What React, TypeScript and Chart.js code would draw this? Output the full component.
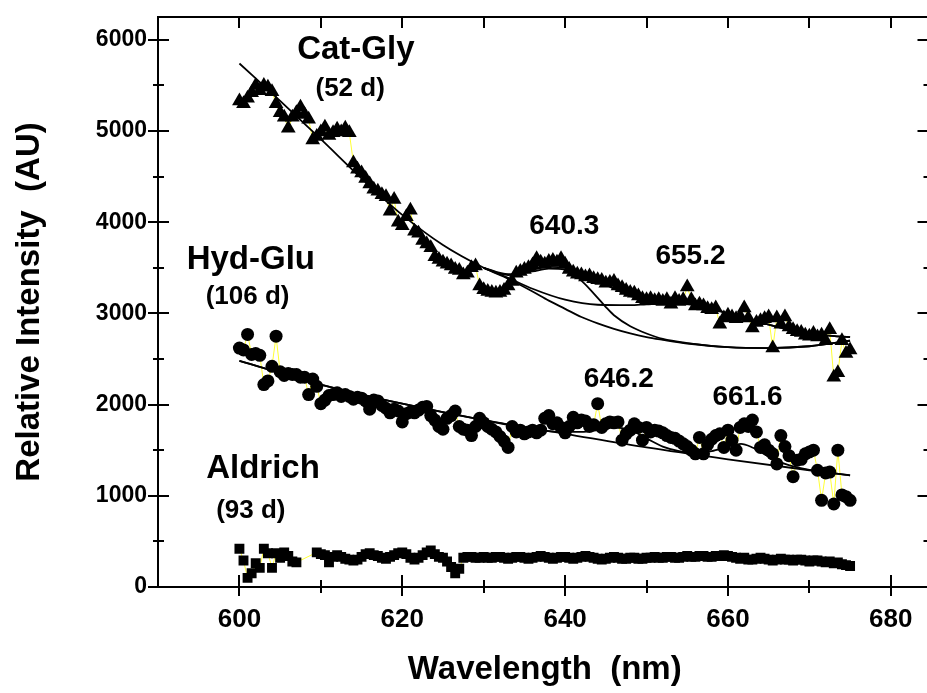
import React, { useEffect, useRef } from "react";
import { Chart, registerables } from "chart.js";

Chart.register(...registerables);

// ---------- data ----------
const wavelengths = [
  600, 600.5, 601, 601.5, 602, 602.5, 603, 603.5, 604, 604.5,
  605, 605.5, 606, 606.5, 607, 607.5, 608, 608.5, 609, 609.5,
  610, 610.5, 611, 611.5, 612, 612.5, 613, 613.5, 614, 614.5,
  615, 615.5, 616, 616.5, 617, 617.5, 618, 618.5, 619, 619.5,
  620, 620.5, 621, 621.5, 622, 622.5, 623, 623.5, 624, 624.5,
  625, 625.5, 626, 626.5, 627, 627.5, 628, 628.5, 629, 629.5,
  630, 630.5, 631, 631.5, 632, 632.5, 633, 633.5, 634, 634.5,
  635, 635.5, 636, 636.5, 637, 637.5, 638, 638.5, 639, 639.5,
  640, 640.5, 641, 641.5, 642, 642.5, 643, 643.5, 644, 644.5,
  645, 645.5, 646, 646.5, 647, 647.5, 648, 648.5, 649, 649.5,
  650, 650.5, 651, 651.5, 652, 652.5, 653, 653.5, 654, 654.5,
  655, 655.5, 656, 656.5, 657, 657.5, 658, 658.5, 659, 659.5,
  660, 660.5, 661, 661.5, 662, 662.5, 663, 663.5, 664, 664.5,
  665, 665.5, 666, 666.5, 667, 667.5, 668, 668.5, 669, 669.5,
  670, 670.5, 671, 671.5, 672, 672.5, 673, 673.5, 674, 674.5,
  675,
];

const catGly = [
  5330, 5300, 5360, 5420, 5500, 5440, 5500, 5480, 5430, 5300,
  5200, 5150, 5030, 5150, 5200, 5260, 5180, 5130, 4900, 4940,
  4990, 5040, 4950, 4980, 5020, 4990, 5030, 4980, 4650, 4580,
  4540, 4480, 4420, 4360, 4340, 4300, 4280, 4120, 4250, 4000,
  3960, 4060, 4130, 3900, 3880, 3800, 3760, 3720, 3620, 3590,
  3560, 3540, 3520, 3480, 3470, 3420, 3440, 3500, 3520, 3300,
  3260, 3240, 3230, 3220, 3230, 3250, 3300, 3350, 3440, 3460,
  3480, 3500, 3530, 3600, 3560, 3540, 3570, 3580, 3560, 3600,
  3540, 3480, 3450, 3430, 3420, 3400, 3410, 3380, 3370, 3360,
  3330, 3340, 3350, 3300, 3280, 3250, 3230, 3220, 3190, 3160,
  3150, 3160, 3140, 3150, 3130, 3150, 3100, 3160, 3130, 3150,
  3290, 3150, 3080, 3100, 3080, 3050, 3040, 3060, 2880, 2950,
  2980, 2960, 2940, 2970, 3060, 2950, 2840, 2900, 2920, 2940,
  2960, 2620, 2950, 2880, 2960, 2850, 2820, 2800, 2790, 2760,
  2750, 2780, 2740, 2760, 2700, 2820, 2300, 2350, 2700, 2560,
  2600,
];

const hydGlu = [
  2620, 2600, 2770, 2550, 2560, 2540, 2220, 2260, 2420, 2750,
  2360, 2320, 2340, 2330, 2330, 2300, 2300, 2110, 2280, 2200,
  2010, 2050, 2100, 2110, 2130, 2090, 2110, 2090, 2060, 2080,
  2070, 2040, 1950, 2050, 2040, 1990, 1960, 1910, 1950, 1930,
  1810, 1900, 1920, 1910, 1940, 1970, 1980, 1880, 1830, 1760,
  1730, 1850, 1880, 1930, 1760, 1730, 1720, 1660, 1760, 1850,
  1800, 1760, 1730, 1700, 1650, 1600, 1530, 1760, 1700, 1720,
  1680, 1700, 1720, 1690, 1720, 1850, 1880, 1790, 1800, 1750,
  1690, 1760, 1860, 1800, 1830, 1820, 1760, 1780, 2010, 1750,
  1790, 1810, 1800, 1810, 1610, 1680, 1720, 1790, 1750, 1610,
  1750, 1700, 1720, 1710, 1690, 1660, 1640, 1630, 1600, 1570,
  1540, 1500, 1460, 1640, 1460, 1560, 1620, 1660, 1680, 1530,
  1720, 1610, 1500, 1750, 1790, 1760, 1830, 1700, 1530, 1560,
  1500, 1460, 1350, 1660, 1540, 1440, 1210, 1390, 1400, 1460,
  1480, 1500, 1280, 950, 1250, 1260, 910, 1500, 1010, 990,
  950,
];

const aldrich = [
  420, 290, 100, 150, 260, 210, 420, 370, 210, 370,
  320, 380, 340, 280, 270, null, null, null, null, 380,
  360, 350, 270, 330, 350, 330, 310, 300, 290, 300,
  330, 360, 370, 350, 340, 320, 310, 330, 350, 370,
  380, 360, 320, 300, 320, 350, 380, 400, 360, 330,
  320, 280, 220, 150, 200, 320, 330, 330, 320, 320,
  330, 320, 320, 330, 330, 320, 310, 320, 330, 330,
  320, 310, 320, 330, 340, 330, 320, 310, 320, 330,
  330, 320, 310, 320, 330, 340, 330, 320, 310, 300,
  310, 320, 330, 320, 310, 310, 320, 320, 310, 310,
  320, 320, 330, 320, 320, 330, 330, 320, 320, 330,
  340, 330, 330, 340, 340, 330, 330, 340, 340, 350,
  340, 330, 320, 310, 320, 300, 300, 310, 320, 310,
  300, 290, 300, 310, 300, 300, 290, 300, 300, 290,
  280, 290, 290, 280, 270, 280, 260, 270, 250, 240,
  230,
];

// fit curves (Cat-Gly)
const catFitX = [600, 605, 610, 615, 620, 625, 630, 633, 636, 638, 640, 642, 644, 646, 648, 650, 652, 655, 660, 665, 670, 675];
const catBaseline = [5740, 5330, 4910, 4480, 4080, 3750, 3500, 3380, 3240, 3140, 3050, 2960, 2890, 2830, 2780, 2740, 2710, 2670, 2630, 2620, 2640, 2700];
const catPeak1X = [630, 633, 636, 638, 640, 641, 642, 643, 644, 645, 646, 648, 650, 652, 655, 660, 665, 670, 675];
const catPeak1 = [3500, 3420, 3460, 3490, 3480, 3430, 3360, 3270, 3170, 3070, 2980, 2860, 2780, 2720, 2675, 2630, 2620, 2640, 2700];
const catPeak2X = [630, 633, 636, 640, 644, 648, 650, 653, 656, 660, 664, 668, 672, 675];
const catPeak2 = [3500, 3390, 3270, 3150, 3095, 3090, 3100, 3110, 3090, 3000, 2900, 2810, 2760, 2740];
const catTotalX = [630, 633, 636, 638, 640, 642, 644, 646, 648, 650, 653, 656, 660, 664, 668, 672, 675];
const catTotal = [3500, 3430, 3480, 3510, 3500, 3440, 3360, 3270, 3190, 3150, 3130, 3100, 3000, 2900, 2810, 2760, 2740];

// fit curves (Hyd-Glu)
const hydFitX = [600, 610, 620, 630, 640, 650, 660, 670, 675];
const hydBaseline = [2480, 2220, 2010, 1830, 1680, 1530, 1400, 1280, 1225];
const hydTotalX = [600, 610, 620, 630, 638, 642, 644, 646, 648, 650, 652, 654, 656, 658, 660, 661.6, 663, 665, 667, 670, 675];
const hydTotal = [2480, 2220, 2010, 1830, 1710, 1700, 1720, 1750, 1720, 1630, 1540, 1490, 1470, 1490, 1540, 1570, 1530, 1430, 1350, 1285, 1225];

// axis ticks
const xTickLabels = [600, 620, 640, 660, 680];
const xMinorTicks = [610, 630, 650, 670];
const yTickLabels = [0, 1000, 2000, 3000, 4000, 5000, 6000];
const yMinorTicks = [500, 1500, 2500, 3500, 4500, 5500];

// annotation texts
const noteTexts = ["Cat-Gly", "(52 d)", "Hyd-Glu", "(106 d)", "Aldrich", "(93 d)", "640.3", "655.2", "646.2", "661.6"];

// ---------- layout / style ----------
const FONT = '"Liberation Sans", Arial, Helvetica, sans-serif';
const CANVAS_W = 940;
const CANVAS_H = 693;
const noteAt: [number, number, number][] = [
  [614.3, 5890, 33],
  [613.6, 5460, 26],
  [601.4, 3590, 33],
  [601.0, 3180, 26],
  [602.9, 1294, 33],
  [601.4, 833, 26],
  [639.9, 3958, 28],
  [655.4, 3629, 28],
  [646.6, 2281, 28],
  [662.4, 2083, 28],
];

const pts = (xs: number[], ys: (number | null)[]) => xs.map((x, i) => ({ x, y: ys[i] }));

const axesPlugin = {
  id: "frameTicks",
  afterDraw(chart: any) {
    const { ctx, chartArea: a, scales } = chart;
    const xs = scales.x;
    const ys = scales.y;
    ctx.save();
    ctx.strokeStyle = "#000";
    ctx.lineWidth = 2;
    ctx.strokeRect(a.left, a.top, a.right - a.left, a.bottom - a.top);
    ctx.beginPath();
    const hl = (x1: number, x2: number, y: number) => { ctx.moveTo(x1, y); ctx.lineTo(x2, y); };
    const vl = (x: number, y1: number, y2: number) => { ctx.moveTo(x, y1); ctx.lineTo(x, y2); };
    yTickLabels.forEach((v) => {
      const y = Math.round(ys.getPixelForValue(v));
      hl(a.left - 10, a.left + 11, y);
      hl(a.right - 14, a.right, y);
    });
    yMinorTicks.forEach((v) => {
      const y = Math.round(ys.getPixelForValue(v));
      hl(a.left - 5, a.left + 6, y);
      hl(a.right - 8, a.right, y);
    });
    xTickLabels.forEach((v) => {
      const x = Math.round(xs.getPixelForValue(v));
      vl(x, a.bottom - 12, a.bottom + 9);
      vl(x, a.top, a.top + 11);
    });
    xMinorTicks.forEach((v) => {
      const x = Math.round(xs.getPixelForValue(v));
      vl(x, a.bottom - 7, a.bottom + 6);
      vl(x, a.top, a.top + 11);
    });
    ctx.stroke();

    ctx.fillStyle = "#000";
    ctx.textAlign = "center";
    ctx.textBaseline = "middle";
    noteTexts.forEach((t, i) => {
      const [vx, vy, size] = noteAt[i];
      ctx.font = `bold ${size}px ${FONT}`;
      ctx.fillText(t, xs.getPixelForValue(vx), ys.getPixelForValue(vy));
    });
    ctx.restore();
  },
};

const markerSet = (label: string, ys: (number | null)[], style: string, radius: number) => ({
  label,
  data: pts(wavelengths, ys),
  showLine: true,
  spanGaps: true,
  borderColor: "#ffff33",
  borderWidth: 1,
  pointStyle: style,
  pointRadius: radius,
  pointBackgroundColor: "#000",
  pointBorderColor: "#000",
  pointBorderWidth: 0,
});

const fitSet = (label: string, xs: number[], ys: number[]) => ({
  label,
  data: pts(xs, ys),
  showLine: true,
  borderColor: "#000",
  borderWidth: 1.8,
  pointRadius: 0,
  cubicInterpolationMode: "monotone",
});

export default function App() {
  const ref = useRef<HTMLCanvasElement | null>(null);

  useEffect(() => {
    if (!ref.current) return;
    const yTickFont = { family: FONT, size: 23, weight: "bold" as const };
    const xTickFont = { family: FONT, size: 26, weight: "bold" as const };
    const titleFont = { family: FONT, size: 33, weight: "bold" as const };
    const chart = new Chart(ref.current, {
      type: "scatter",
      data: {
        datasets: [
          fitSet("Cat-Gly total", catTotalX, catTotal),
          fitSet("Cat-Gly 640.3", catPeak1X, catPeak1),
          fitSet("Cat-Gly 655.2", catPeak2X, catPeak2),
          fitSet("Cat-Gly baseline", catFitX, catBaseline),
          fitSet("Hyd-Glu total", hydTotalX, hydTotal),
          fitSet("Hyd-Glu baseline", hydFitX, hydBaseline),
          markerSet("Cat-Gly (52 d)", catGly, "triangle", 8.5),
          markerSet("Hyd-Glu (106 d)", hydGlu, "circle", 6.5),
          markerSet("Aldrich (93 d)", aldrich, "rect", 7),
        ] as any,
      },
      options: {
        animation: false,
        responsive: false,
        devicePixelRatio: 1,
        layout: { padding: { left: 8, right: 8, top: 17, bottom: 0 } },
        plugins: { legend: { display: false }, tooltip: { enabled: false } },
        scales: {
          x: {
            type: "linear",
            min: 590,
            max: 685,
            grid: { display: false, drawTicks: false },
            border: { display: false },
            afterBuildTicks: (s: any) => { s.ticks = xTickLabels.map((v) => ({ value: v })); },
            afterFit: (s: any) => { s.height = 106; s.paddingLeft = 0; s.paddingRight = 0; },
            ticks: { padding: 17, color: "#000", font: xTickFont, maxRotation: 0, autoSkip: false, callback: (v: any) => String(v) },
            title: { display: true, text: "Wavelength  (nm)", color: "#000", font: titleFont, padding: { top: 0, bottom: 3 } },
          },
          y: {
            type: "linear",
            min: 0,
            max: 6250,
            grid: { display: false, drawTicks: false },
            border: { display: false },
            afterBuildTicks: (s: any) => { s.ticks = yTickLabels.map((v) => ({ value: v })); },
            afterFit: (s: any) => { s.width = 150; s.paddingTop = 0; s.paddingBottom = 0; },
            ticks: { padding: 11, color: "#000", font: yTickFont, autoSkip: false, callback: (v: any) => String(v) },
            title: { display: true, text: "Relative Intensity  (AU)", color: "#000", font: titleFont, padding: { top: 2, bottom: 0 } },
          },
        },
      } as any,
      plugins: [axesPlugin],
    });
    return () => chart.destroy();
  }, []);

  return (
    <div style={{ position: "fixed", left: 0, top: 0, width: 927, height: 693, overflow: "hidden", background: "#fff" }}>
      <canvas ref={ref} width={CANVAS_W} height={CANVAS_H} style={{ display: "block", width: CANVAS_W, height: CANVAS_H }} />
    </div>
  );
}
